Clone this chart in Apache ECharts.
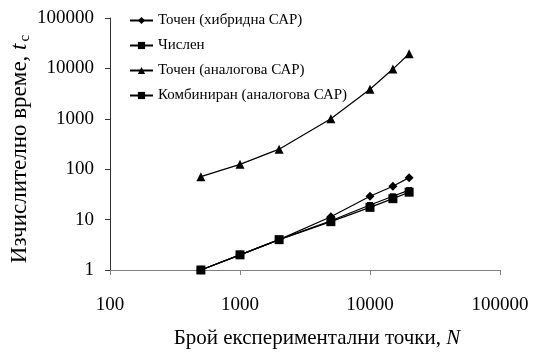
<!DOCTYPE html>
<html><head><meta charset="utf-8">
<script src="https://cdn.jsdelivr.net/npm/echarts@6/dist/echarts.min.js"></script>
<style>html,body{margin:0;padding:0;background:#fff}#c{width:539px;height:362px}</style>
</head><body><div id="c"></div>
<script>
const xValues = [500, 1000, 2000, 5000, 10000, 15000, 20000];
const hybridExact = [1, 2, 4, 11.4, 29, 46, 68];
const numeric = [1, 2, 4, 9.1, 17.5, 26, 35];
const analogExact = [71, 125, 250, 1000, 3850, 9700, 19500];
const combined = [1, 2, 4, 9.5, 19.5, 29, 38.5];
const seriesNames = ['Точен (хибридна САР)', 'Числен', 'Точен (аналогова САР)', 'Комбиниран (аналогова САР)'];
const xTickLabels = ['100', '1000', '10000', '100000'];
const yTickLabels = ['1', '10', '100', '1000', '10000', '100000'];

const FONT = 'Liberation Serif';
function pairs(ys){ return xValues.map((x,i)=>[x, ys[i]]); }
const mk = (name, data, symbol, size) => ({
  name, type:'line', data: pairs(data), symbol, symbolSize: size,
  itemStyle:{color:'#000'}, lineStyle:{color:'#000', width:1.2}, z: 2
});
const chart = echarts.init(document.getElementById('c'), null, {renderer:'canvas'});
chart.setOption({
  animation:false,
  backgroundColor:'#fff',
  grid:{left:110, right:39, top:18, bottom:92, containLabel:false, outerBoundsMode:'none'},
  legend:{
    orient:'vertical', left:124, top:8, itemGap:10, itemWidth:23, itemHeight:9,
    textStyle:{fontFamily:FONT, fontSize:15, color:'#000', backgroundColor:'#fff', padding:[0,3,0,0]},
    data: seriesNames
  },
  xAxis:{
    type:'log', logBase:10, min:100, max:100000,
    name:'Брой експериментални точки, {i|N}', nameLocation:'middle', nameGap:58, nameMoveOverlap:false,
    nameTextStyle:{fontFamily:FONT, fontSize:21, color:'#000', padding:[0,0,0,24],
      rich:{i:{fontFamily:FONT, fontSize:21, fontStyle:'italic', color:'#000'}}},
    axisLine:{lineStyle:{color:'#808080', width:1}},
    axisTick:{show:true, length:5, lineStyle:{color:'#808080'}},
    axisLabel:{fontFamily:FONT, fontSize:19, color:'#000', margin:26,
      formatter:(v)=>{const k=Math.round(Math.log10(v))-2; return xTickLabels[k]!==undefined?xTickLabels[k]:'';}},
    splitLine:{show:false}, minorTick:{show:false}
  },
  yAxis:{
    type:'log', logBase:10, min:1, max:100000,
    name:'Изчислително време, {i|t}{s|c}', nameLocation:'middle', nameGap:77, nameRotate:90, nameMoveOverlap:false,
    nameTextStyle:{fontFamily:FONT, fontSize:23, color:'#000', padding:[0,10,0,0],
      rich:{i:{fontFamily:FONT, fontSize:23, fontStyle:'italic', color:'#000'},
            s:{fontFamily:FONT, fontSize:15, color:'#000', verticalAlign:'top', padding:[11,0,0,2]}}},
    axisLine:{show:true, lineStyle:{color:'#333', width:1}},
    axisTick:{show:true, length:5, lineStyle:{color:'#333'}},
    axisLabel:{fontFamily:FONT, fontSize:19, color:'#000', margin:16,
      formatter:(v)=>{const k=Math.round(Math.log10(v)); return yTickLabels[k]!==undefined?yTickLabels[k]:'';}},
    splitLine:{show:false}
  },
  series:[
    mk(seriesNames[0], hybridExact, 'diamond', 9),
    mk(seriesNames[1], numeric, 'rect', 9),
    mk(seriesNames[2], analogExact, 'triangle', 9),
    mk(seriesNames[3], combined, 'rect', 6)
  ]
});
</script></body></html>
